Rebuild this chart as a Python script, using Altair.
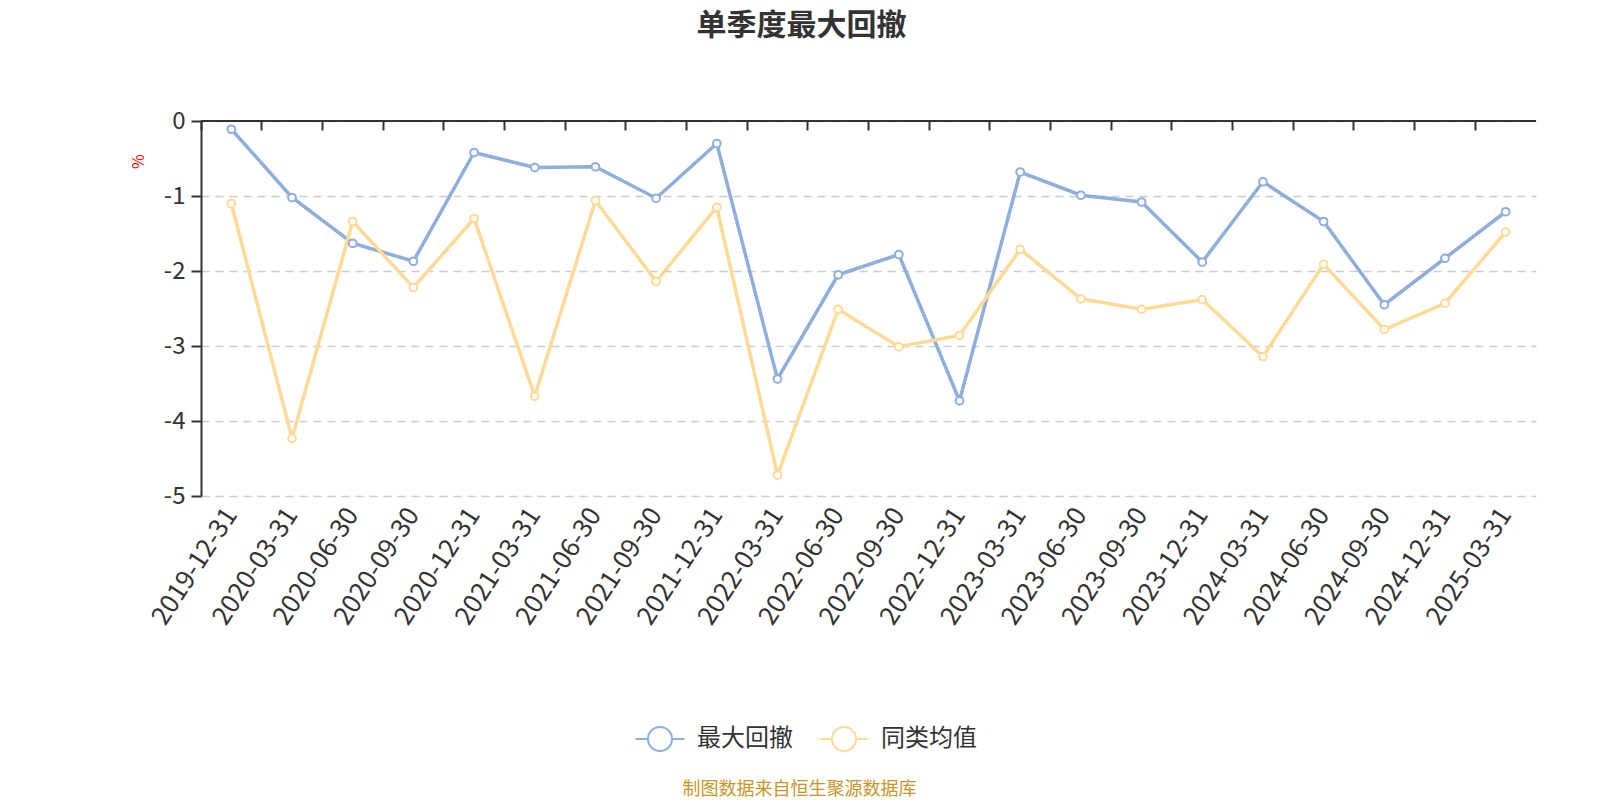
import altair as alt
import pandas as pd

dates = ["2019-12-31", "2020-03-31", "2020-06-30", "2020-09-30", "2020-12-31",
         "2021-03-31", "2021-06-30", "2021-09-30", "2021-12-31", "2022-03-31",
         "2022-06-30", "2022-09-30", "2022-12-31", "2023-03-31", "2023-06-30",
         "2023-09-30", "2023-12-31", "2024-03-31", "2024-06-30", "2024-09-30",
         "2024-12-31", "2025-03-31"]
max_dd = [-0.11, -1.02, -1.63, -1.87, -0.42, -0.62, -0.61, -1.03, -0.30, -3.44,
          -2.05, -1.78, -3.73, -0.68, -0.99, -1.08, -1.88, -0.81, -1.34, -2.45,
          -1.83, -1.21]
peer_avg = [-1.10, -4.23, -1.34, -2.22, -1.30, -3.67, -1.06, -2.14, -1.15, -4.72,
            -2.51, -3.01, -2.86, -1.71, -2.37, -2.51, -2.38, -3.14, -1.91, -2.78,
            -2.43, -1.48]
series_names = ["最大回撤", "同类均值"]
colors = ["#8EAEDC", "#FFD996"]
y_ticks = [0, -1, -2, -3, -4, -5]

rows = []
for d, a, b in zip(dates, max_dd, peer_avg):
    rows.append({"date": d, "series": series_names[0], "value": a})
    rows.append({"date": d, "series": series_names[1], "value": b})
df = pd.DataFrame(rows)

W, H = 1335, 375
FONT = "Noto Sans CJK SC"
DARK = "#333333"

x_scale = alt.Scale(type="band", domain=dates, paddingInner=0, paddingOuter=0)
y_scale = alt.Scale(domain=[-5, 0], nice=False, zero=False)
c_scale = alt.Scale(domain=series_names, range=colors)

x_bottom = alt.X(
    "date:N", scale=x_scale, sort=dates,
    axis=alt.Axis(
        orient="bottom", labelAngle=-57, labelAlign="right", labelBaseline="middle",
        labelPadding=14, labelFontSize=26, labelColor=DARK, labelFont=FONT,
        domain=False, ticks=False, grid=False,
        title="制图数据来自恒生聚源数据库", titleX=598, titleY=293,
        titleColor="#C8952A", titleFontSize=18, titleFontWeight="normal",
        titleFont=FONT, titleBaseline="middle", titleAlign="center", titleAngle=0,
    ),
)
x_top = alt.X(
    "date:N", scale=x_scale, sort=dates,
    axis=alt.Axis(
        orient="top", offset=-9, bandPosition=0, domain=False, labels=False,
        ticks=True, tickSize=9, tickWidth=2, tickColor=DARK, grid=False, title=None,
    ),
)
y_axis = alt.Axis(
    values=y_ticks, domain=True, domainColor=DARK, domainWidth=2,
    ticks=True, tickSize=10, tickColor=DARK, tickWidth=2,
    labelFontSize=24, labelColor=DARK, labelFont=FONT, labelPadding=6,
    labelExpr="toString(datum.value)",
    grid=True, gridDash=[8, 6], gridColor="#cccccc", gridWidth=1.5,
    title="%", titleColor="red", titleFontSize=16, titleFontWeight="normal",
    titleX=-63, titleY=40, titleAngle=-90, titleFont=FONT,
    titleAlign="center", titleBaseline="middle",
)
y_main = alt.Y("value:Q", scale=y_scale, axis=y_axis)

legend_symbol = ("M-0.98,0L-0.48,0M0.48,0L0.98,0"
                 "M0.48,0A0.48,0.48,0,1,1,-0.48,0A0.48,0.48,0,1,1,0.48,0Z")
legend = alt.Legend(
    orient="none", legendX=433, legendY=592, direction="horizontal",
    title=None, symbolType=legend_symbol, symbolSize=2500,
    symbolStrokeWidth=2, symbolFillColor="white", labelOffset=11,
    labelFontSize=24, labelFont=FONT, labelColor=DARK, columnPadding=22,
)
stroke_enc = alt.Stroke("series:N", scale=c_scale, sort=series_names, legend=legend)

lines = alt.Chart(df).mark_line(strokeWidth=3.5).encode(
    x=x_bottom, y=y_main, stroke=stroke_enc, detail="series:N",
)

points = alt.Chart(df).mark_point(
    shape="circle", filled=False, fill="white", fillOpacity=1, size=60, strokeWidth=2,
).encode(
    x=x_top, y=y_main, stroke=stroke_enc,
)

top_line = alt.Chart(df).mark_rule(color=DARK, strokeWidth=2).encode(
    y=alt.Y(datum=0, scale=y_scale, axis=y_axis), x=alt.value(0), x2=alt.value(W),
)

chart = alt.layer(lines, points, top_line).resolve_axis(x="independent").properties(
    width=W, height=H,
    title=alt.TitleParams(
        "单季度最大回撤", fontSize=30, font=FONT, fontWeight="bold", color=DARK,
        anchor="middle", dx=-67, offset=68,
    ),
    padding={"left": 193, "top": 113, "right": 56, "bottom": 312},
    autosize=alt.AutoSizeParams(type="none"),
    background="white",
).configure_view(stroke=None)

chart.save("out.html", embed_options={"renderer": "svg", "actions": False})
